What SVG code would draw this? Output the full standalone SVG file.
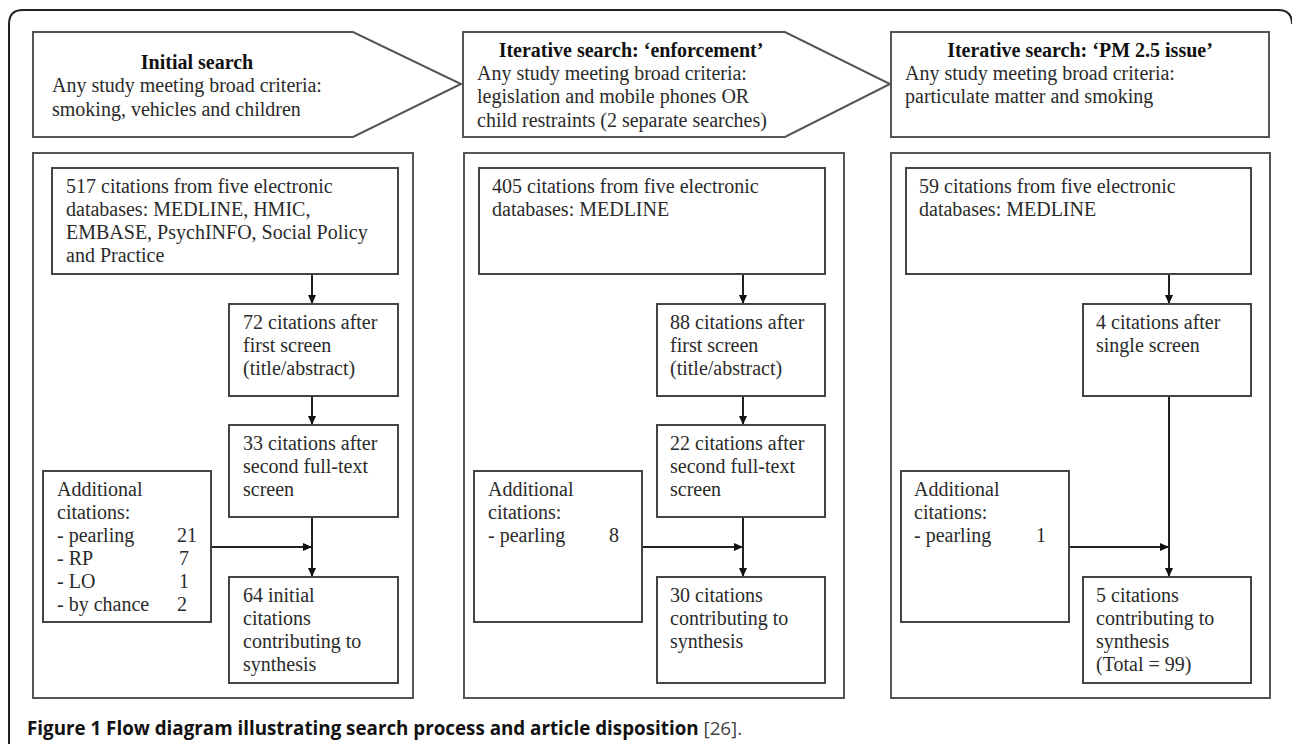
<svg xmlns="http://www.w3.org/2000/svg" width="1292" height="744" viewBox="0 0 1292 744">
<style>
.frame{fill:none;stroke:#222;stroke-width:2}
.hd{fill:#fff;stroke:#555;stroke-width:2}
.bx{fill:#fff;stroke:#444;stroke-width:2}
.pn{fill:none;stroke:#555;stroke-width:2}
.ln{fill:none;stroke:#222;stroke-width:2}
text{font-family:"Liberation Serif","Times New Roman",serif;font-size:20px;fill:#2a2a2a}
.b{font-weight:bold;fill:#111}
.cap{font-family:"Open Sans","DejaVu Sans",sans-serif;font-size:18.8px;font-weight:bold;fill:#111}
</style>
<defs>
<marker id="ah" markerWidth="10" markerHeight="10" refX="9" refY="5" orient="auto" markerUnits="userSpaceOnUse">
<path d="M0,1 L9,5 L0,9 Z" fill="#111"/>
</marker>
</defs>
<rect width="1292" height="744" fill="#fff"/>
<path class="frame" d="M9,744 V24 Q9,10 23,10 H1278 Q1292,10 1292,24"/>

<g id="header1">
<polygon class="hd" points="33,32 353,32 461,84 353,137 33,137"/>
<text class="b" x="197" y="69" text-anchor="middle">Initial search</text>
<text x="52" y="92">Any study meeting broad criteria:</text>
<text x="52" y="116">smoking, vehicles and children</text>
</g>
<g id="header2">
<polygon class="hd" points="463,32 785,32 890,84 785,137 463,137"/>
<text class="b" x="631" y="57" text-anchor="middle">Iterative search: ‘enforcement’</text>
<text x="477" y="80">Any study meeting broad criteria:</text>
<text x="477" y="103">legislation and mobile phones OR</text>
<text x="477" y="127">child restraints (2 separate searches)</text>
</g>
<g id="header3">
<rect class="hd" x="891" y="32" width="378" height="105"/>
<text class="b" x="1080" y="57" text-anchor="middle">Iterative search: ‘PM 2.5 issue’</text>
<text x="905" y="80">Any study meeting broad criteria:</text>
<text x="905" y="103">particulate matter and smoking</text>
</g>

<g id="panels">
<rect class="pn" x="33" y="153" width="380" height="545"/>
<rect class="pn" x="464" y="153" width="380" height="545"/>
<rect class="pn" x="891" y="153" width="379" height="545"/>
</g>

<g id="connectors">
<line class="ln" x1="312" y1="274" x2="312" y2="304" marker-end="url(#ah)"/>
<line class="ln" x1="312" y1="396" x2="312" y2="425" marker-end="url(#ah)"/>
<line class="ln" x1="312" y1="517" x2="312" y2="577" marker-end="url(#ah)"/>
<line class="ln" x1="211" y1="547" x2="312" y2="547" marker-end="url(#ah)"/>
<line class="ln" x1="743" y1="274" x2="743" y2="304" marker-end="url(#ah)"/>
<line class="ln" x1="743" y1="396" x2="743" y2="425" marker-end="url(#ah)"/>
<line class="ln" x1="743" y1="517" x2="743" y2="577" marker-end="url(#ah)"/>
<line class="ln" x1="642" y1="547" x2="743" y2="547" marker-end="url(#ah)"/>
<line class="ln" x1="1169" y1="274" x2="1169" y2="304" marker-end="url(#ah)"/>
<line class="ln" x1="1169" y1="396" x2="1169" y2="577" marker-end="url(#ah)"/>
<line class="ln" x1="1069" y1="547" x2="1169" y2="547" marker-end="url(#ah)"/>
</g>

<g id="p1a">
<rect class="bx" x="52" y="168" width="346" height="106"/>
<text x="66" y="193">517 citations from five electronic</text>
<text x="66" y="216">databases: MEDLINE, HMIC,</text>
<text x="66" y="239">EMBASE, PsychINFO, Social Policy</text>
<text x="66" y="262">and Practice</text>
</g>
<g id="p1b">
<rect class="bx" x="229" y="304" width="169" height="92"/>
<text x="243" y="329">72 citations after</text>
<text x="243" y="352">first screen</text>
<text x="243" y="375">(title/abstract)</text>
</g>
<g id="p1c">
<rect class="bx" x="229" y="425" width="169" height="92"/>
<text x="243" y="450">33 citations after</text>
<text x="243" y="473">second full-text</text>
<text x="243" y="496">screen</text>
</g>
<g id="p1add">
<rect class="bx" x="43" y="471" width="168" height="151"/>
<text x="57" y="496">Additional</text>
<text x="57" y="519">citations:</text>
<text x="57" y="542">- pearling</text><text x="177" y="542">21</text>
<text x="57" y="565">- RP</text><text x="179" y="565">7</text>
<text x="57" y="588">- LO</text><text x="179" y="588">1</text>
<text x="57" y="611">- by chance</text><text x="177" y="611">2</text>
</g>
<g id="p1d">
<rect class="bx" x="229" y="577" width="169" height="106"/>
<text x="243" y="602">64 initial</text>
<text x="243" y="625">citations</text>
<text x="243" y="648">contributing to</text>
<text x="243" y="671">synthesis</text>
</g>

<g id="p2a">
<rect class="bx" x="479" y="168" width="346" height="106"/>
<text x="492" y="193">405 citations from five electronic</text>
<text x="492" y="216">databases: MEDLINE</text>
</g>
<g id="p2b">
<rect class="bx" x="657" y="304" width="168" height="92"/>
<text x="670" y="329">88 citations after</text>
<text x="670" y="352">first screen</text>
<text x="670" y="375">(title/abstract)</text>
</g>
<g id="p2c">
<rect class="bx" x="657" y="425" width="168" height="92"/>
<text x="670" y="450">22 citations after</text>
<text x="670" y="473">second full-text</text>
<text x="670" y="496">screen</text>
</g>
<g id="p2add">
<rect class="bx" x="474" y="471" width="168" height="151"/>
<text x="488" y="496">Additional</text>
<text x="488" y="519">citations:</text>
<text x="488" y="542">- pearling</text><text x="609" y="542">8</text>
</g>
<g id="p2d">
<rect class="bx" x="657" y="577" width="168" height="106"/>
<text x="670" y="602">30 citations</text>
<text x="670" y="625">contributing to</text>
<text x="670" y="648">synthesis</text>
</g>

<g id="p3a">
<rect class="bx" x="906" y="168" width="345" height="106"/>
<text x="919" y="193">59 citations from five electronic</text>
<text x="919" y="216">databases: MEDLINE</text>
</g>
<g id="p3b">
<rect class="bx" x="1083" y="304" width="168" height="92"/>
<text x="1096" y="329">4 citations after</text>
<text x="1096" y="352">single screen</text>
</g>
<g id="p3add">
<rect class="bx" x="901" y="471" width="168" height="151"/>
<text x="914" y="496">Additional</text>
<text x="914" y="519">citations:</text>
<text x="914" y="542">- pearling</text><text x="1036" y="542">1</text>
</g>
<g id="p3d">
<rect class="bx" x="1083" y="577" width="168" height="106"/>
<text x="1096" y="602">5 citations</text>
<text x="1096" y="625">contributing to</text>
<text x="1096" y="648">synthesis</text>
<text x="1096" y="671">(Total = 99)</text>
</g>

<text class="cap" x="27" y="735">Figure 1 Flow diagram illustrating search process and article disposition <tspan style="font-weight:normal;fill:#444">[26].</tspan></text>
</svg>
